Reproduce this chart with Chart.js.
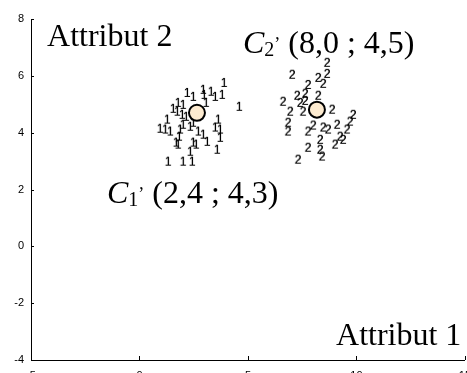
<!DOCTYPE html>
<html><head><meta charset="utf-8">
<script src="https://cdn.jsdelivr.net/npm/chart.js@4/dist/chart.umd.min.js"></script>
<style>
html,body{margin:0;padding:0;overflow:hidden;background:#fff;width:467px;height:373px}
#wrap{position:absolute;left:0;top:0;width:480px;height:385px}
</style>
</head><body><div id="wrap"><canvas id="c" width="480" height="385"></canvas></div>
<script>
// ---- data ----
const xTicks = [-5, 0, 5, 10, 15];
const yTicks = [-4, -2, 0, 2, 4, 6, 8];
const class1X = [3.89,2.19,2.47,2.93,2.97,3.29,3.48,3.80,4.59,1.77,2.00,1.54,1.73,1.96,2.14,3.06,1.27,0.94,1.18,1.41,1.87,2.00,2.33,2.47,2.70,2.93,3.48,3.71,3.62,1.82,1.68,1.77,2.47,2.60,3.11,3.71,3.57,2.33,1.31,2.00,2.42];
const class1Y = [5.75,5.40,5.26,5.51,5.33,5.44,5.26,5.33,4.91,5.05,4.98,4.84,4.74,4.63,4.56,5.05,4.46,4.14,4.11,4.04,4.11,4.28,4.21,4.35,4.04,3.93,4.18,4.11,4.46,3.86,3.65,3.58,3.65,3.58,3.68,3.82,3.40,3.33,2.98,2.98,2.98];
const class2X = [8.64,8.64,7.03,8.23,8.46,7.76,7.26,7.63,8.23,6.61,7.40,7.63,6.94,7.53,8.87,9.84,6.84,6.84,8.00,7.76,8.46,8.69,9.10,9.70,9.56,9.24,9.01,8.32,7.76,8.32,8.41,7.30,9.38];
const class2Y = [6.46,6.07,6.04,5.93,5.72,5.68,5.30,5.37,5.30,5.09,5.05,5.12,4.74,4.74,4.81,4.63,4.35,4.04,4.25,4.04,4.18,4.11,4.28,4.39,4.11,3.86,3.58,3.75,3.47,3.40,3.16,3.05,3.75];
const centroidX = [2.65, 8.18];
const centroidY = [4.70, 4.81];
const axisTitles = ['Attribut 1', 'Attribut 2'];
const centroidNames = ['1', '2'];
const centroidLabels = ['(2,4 ; 4,3)', '(8,0 ; 4,5)'];

// ---- glyph point styles ----
function glyph(ch){
  const c = document.createElement('canvas');
  c.width = 10; c.height = 14;
  const g = c.getContext('2d');
  g.font = '12px "Liberation Sans", Arial, sans-serif';
  g.fillStyle = '#000';
  g.textAlign = 'center';
  g.textBaseline = 'middle';
  g.fillText(ch, 5, 7.5);
  g.fillText(ch, 5.4, 7.5);
  return c;
}
const zip = (xs, ys) => xs.map((x, i) => ({x, y: ys[i]}));

const tickPlugin = {
  id: 'innerTicks',
  afterDraw(chart){
    const {ctx, chartArea: a, scales: {x, y}} = chart;
    ctx.save();
    ctx.strokeStyle = '#000'; ctx.lineWidth = 1;
    ctx.beginPath();
    xTicks.forEach(v => { const px = Math.round(x.getPixelForValue(v)) + 0.5; ctx.moveTo(px, a.bottom); ctx.lineTo(px, a.bottom - 4); });
    yTicks.forEach(v => { const py = Math.round(y.getPixelForValue(v)) + 0.5; ctx.moveTo(a.left, py); ctx.lineTo(a.left + 3, py); });
    ctx.stroke();
    ctx.restore();
  }
};

const textPlugin = {
  id: 'annot',
  afterDatasetsDraw(chart, args, opts){
    const {ctx, scales: {x, y}} = chart;
    const serif = '"Liberation Serif", "Times New Roman", serif';
    ctx.save();
    ctx.fillStyle = '#000';
    ctx.textBaseline = 'alphabetic';
    ctx.textAlign = 'left';
    const fs = opts.size;
    opts.titles.forEach(t => {
      ctx.font = fs + 'px ' + serif;
      ctx.fillText(t.text, x.getPixelForValue(t.x), y.getPixelForValue(t.y));
    });
    opts.centroids.forEach(t => {
      let px = x.getPixelForValue(t.x);
      const py = y.getPixelForValue(t.y);
      ctx.font = 'italic ' + fs + 'px ' + serif;
      ctx.fillText('C', px, py); px += ctx.measureText('C').width;
      ctx.font = Math.round(fs * 0.62) + 'px ' + serif;
      ctx.fillText(t.sub, px, py + 3); px += ctx.measureText(t.sub).width;
      ctx.font = Math.round(fs * 0.55) + 'px ' + serif;
      ctx.fillText('\u2019', px, py - 3); px += ctx.measureText('\u2019').width;
      ctx.font = fs + 'px ' + serif;
      ctx.fillText(' ' + t.text, px, py);
    });
    ctx.restore();
  }
};

new Chart(document.getElementById('c'), {
  type: 'scatter',
  data: {
    datasets: [
      {data: zip(class1X, class1Y), pointStyle: glyph('1'), pointRadius: 5, order: 2},
      {data: zip(class2X, class2Y), pointStyle: glyph('2'), pointRadius: 5, order: 2},
      {data: zip(centroidX, centroidY), pointStyle: 'circle', pointRadius: 8, pointBackgroundColor: '#fdebd0', pointBorderColor: '#000', pointBorderWidth: 2, order: 1}
    ]
  },
  options: {
    responsive: false,
    animation: false,
    devicePixelRatio: 1,
    layout: {padding: {top: 19, right: 15, bottom: 0, left: 0}},
    plugins: {
      legend: {display: false},
      tooltip: {enabled: false},
      annot: {
        size: 32,
        titles: [
          {text: axisTitles[1], x: -4.26, y: 7.05},
          {text: axisTitles[0], x: 9.06, y: -3.47}
        ],
        centroids: [
          {sub: centroidNames[0], text: centroidLabels[0], x: -1.5, y: 1.51},
          {sub: centroidNames[1], text: centroidLabels[1], x: 4.77, y: 6.81}
        ]
      }
    },
    scales: {
      x: {
        type: 'linear', min: -5, max: 15,
        afterBuildTicks: s => { s.ticks = xTicks.map(v => ({value: v})); },
        afterFit: s => { s.height = 25; },
        grid: {display: true, drawOnChartArea: false, drawTicks: false},
        border: {display: true, color: '#000', width: 1},
        ticks: {padding: 9, color: '#000', font: {family: '"Liberation Sans", Arial', size: 11}, maxRotation: 0}
      },
      y: {
        type: 'linear', min: -4, max: 8,
        afterBuildTicks: s => { s.ticks = yTicks.map(v => ({value: v})); },
        afterFit: s => { s.width = 31; },
        grid: {display: true, drawOnChartArea: false, drawTicks: false},
        border: {display: true, color: '#000', width: 1},
        ticks: {padding: 7, color: '#000', font: {family: '"Liberation Sans", Arial', size: 11}}
      }
    }
  },
  plugins: [tickPlugin, textPlugin]
});
</script></body></html>
